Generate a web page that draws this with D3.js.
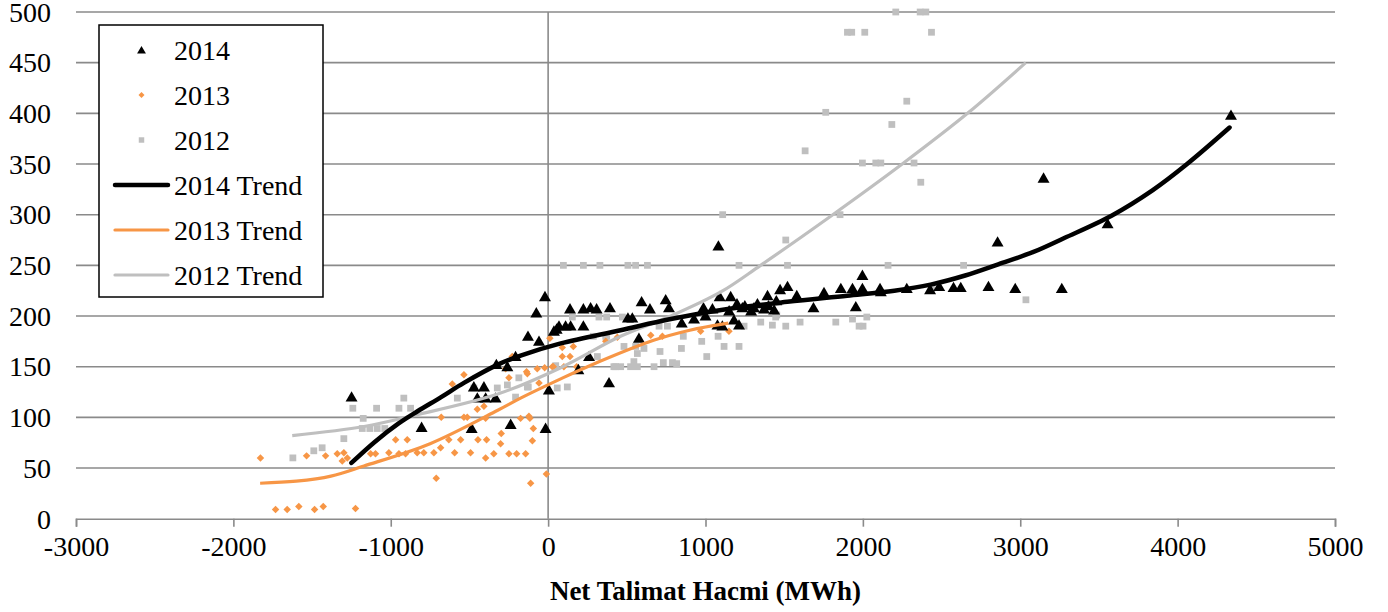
<!DOCTYPE html>
<html>
<head>
<meta charset="utf-8">
<script src="https://cdn.jsdelivr.net/npm/d3@7"></script>
<style>
html,body{margin:0;padding:0;background:#fff;}
svg{display:block;font-family:"Liberation Serif","Times New Roman",serif;}
</style>
</head>
<body>
<svg id="chart" width="1388" height="612"></svg>
<script>
// ---- data ----
const xTicks = [-3000, -2000, -1000, 0, 1000, 2000, 3000, 4000, 5000];
const yTicks = [0, 50, 100, 150, 200, 250, 300, 350, 400, 450, 500];
const xTitle = "Net Talimat Hacmi (MWh)";
const seriesNames = ["2014", "2013", "2012", "2014 Trend", "2013 Trend", "2012 Trend"];

const pts2014 = [[-1249,120],[-804,90],[-486,89],[-472,130],[-408,130],[-450,119],[-397,119],[-334,119],[-329,152],[-259,150],[-238,93],[-207,160],[-128,180],[-75,203],[-58,175],[-20,219],[-16,89],[5,127],[37,185],[54,187],[69,190],[111,190],[139,207],[143,190],[192,147],[224,207],[224,190],[260,160],[270,208],[308,207],[387,134],[393,208],[507,198],[535,198],[577,178],[594,214],[647,207],[747,216],[768,208],[849,193],[927,197],[987,208],[1000,200],[1044,207],[1076,191],[1082,269],[1090,219],[1107,190],[1150,205],[1160,219],[1181,196],[1200,212],[1213,191],[1234,208],[1250,210],[1290,205],[1308,208],[1330,212],[1372,207],[1394,220],[1400,210],[1436,206],[1450,215],[1474,226],[1521,229],[1580,220],[1686,208],[1753,223],[1860,227],[1934,227],[1955,209],[1997,240],[1997,227],[2109,227],[2114,224],[2279,227],[2427,226],[2485,229],[2576,228],[2622,228],[2798,229],[2856,273],[2968,227],[3148,336],[3264,227],[3555,291],[4339,398]];

const pts2013 = [[-1828,60],[-1732,9],[-1658,9],[-1584,12],[-1484,9],[-1429,12],[-1224,10],[-1535,62],[-1414,62],[-1340,64],[-1298,65],[-1308,57],[-1276,60],[-1128,64],[-1097,64],[-1012,65],[-969,78],[-948,64],[-906,64],[-895,78],[-832,65],[-790,65],[-726,65],[-711,40],[-683,70],[-679,100],[-631,78],[-609,133],[-594,65],[-556,78],[-535,142],[-535,100],[-514,100],[-493,65],[-450,108],[-446,78],[-408,111],[-397,60],[-397,99],[-391,78],[-345,64],[-302,74],[-298,84],[-270,148],[-249,139],[-249,64],[-228,160],[-200,64],[-175,99],[-143,64],[-137,145],[-132,143],[-122,101],[-116,99],[-111,35],[-100,77],[-94,89],[-69,148],[-58,134],[-22,149],[-11,44],[11,178],[27,150],[33,150],[90,169],[90,160],[100,150],[139,160],[160,170],[181,150],[366,175],[440,179],[652,181],[726,180],[969,185],[1149,185]];

const pts2012 = [[-1622,60],[-1489,67],[-1436,70],[-1298,79],[-1241,109],[-1181,89],[-1175,99],[-1133,89],[-1090,109],[-1086,89],[-1038,89],[-948,109],[-917,119],[-874,109],[-577,119],[-472,129],[-323,129],[-259,132],[-207,120],[-186,139],[-132,130],[-126,130],[48,151],[58,129],[97,250],[122,130],[154,199],[224,250],[287,180],[313,160],[323,199],[329,250],[366,180],[372,199],[372,180],[418,150],[429,150],[461,150],[472,199],[482,170],[507,250],[524,150],[545,155],[556,250],[556,170],[567,163],[567,150],[609,168],[631,250],[673,150],[705,190],[711,165],[732,154],[758,190],[790,154],[817,153],[847,168],[859,180],[976,175],[1008,160],[1080,180],[1109,300],[1118,170],[1213,250],[1213,170],[1245,190],[1351,194],[1425,191],[1446,199],[1453,201],[1510,190],[1510,275],[1521,250],[1601,194],[1633,363],[1764,401],[1828,194],[1855,300],[1902,480],[1929,480],[1934,197],[1976,190],[1997,351],[2001,190],[2012,480],[2025,199],[2082,351],[2114,351],[2160,250],[2184,389],[2209,500],[2279,412],[2325,351],[2364,500],[2368,332],[2400,500],[2436,480],[2438,227],[2640,250],[3036,216]];

const trend2014 = [[-1250,55],[-1100,76],[-950,94],[-830,106],[-680,120],[-535,134],[-320,152],[-175,161],[80,173],[460,186],[780,197],[1100,206],[1520,214],[1900,220],[2200,225],[2430,231],[2650,240],[2860,251],[3080,263],[3280,277],[3580,299],[3840,324],[4060,350],[4330,386]];
const trend2013 = [[-1830,35],[-1600,37],[-1380,42],[-1170,52],[-750,74],[-320,107],[-175,119],[80,138],[250,150],[670,176],[900,186],[1145,193]];
const trend2012 = [[-1626,82],[-1170,91],[-850,102],[-320,123],[80,149],[460,180],[780,200],[1100,224],[1350,250],[1800,299],[2250,350],[2665,400],[3035,450]];

// ---- layout ----
const svg = d3.select("#chart");
const x = d3.scaleLinear().domain([-3000, 5000]).range([76, 1335]);
const y = d3.scaleLinear().domain([0, 500]).range([518.7, 12]);
const gridColor = "#8a8a8a";
const cBlack = "#000000", cOrange = "#F79646", cGray = "#BFBFBF";

// gridlines
svg.append("g").selectAll("line").data(yTicks.filter(d => d > 0)).join("line")
  .attr("x1", x(-3000)).attr("x2", x(5000))
  .attr("y1", d => y(d)).attr("y2", d => y(d))
  .attr("stroke", gridColor).attr("stroke-width", 1.6);

// vertical axis line at x = 0
svg.append("line").attr("x1", x(0)).attr("x2", x(0))
  .attr("y1", y(500)).attr("y2", y(0))
  .attr("stroke", gridColor).attr("stroke-width", 1.6);

// x axis
const xAxis = d3.axisBottom(x).tickValues(xTicks).tickSize(8).tickPadding(9).tickFormat(d => String(d));
const gx = svg.append("g").attr("transform", `translate(0,${y(0)})`).call(xAxis);
gx.select(".domain").attr("stroke", gridColor).attr("stroke-width", 1.6);
gx.selectAll(".tick line").attr("stroke", gridColor).attr("stroke-width", 1.6);
gx.selectAll(".tick text").attr("font-family", "Liberation Serif").attr("font-size", 28).attr("fill", "#000").attr("dy", "0.71em");

// y tick labels (no axis line on left)
svg.append("g").selectAll("text").data(yTicks).join("text")
  .attr("x", 51).attr("y", d => y(d)).attr("dy", "0.35em")
  .attr("text-anchor", "end").attr("font-size", 28).attr("fill", "#000")
  .text(d => String(d));

// x title
svg.append("text").attr("x", (x(-3000) + x(5000)) / 2).attr("y", 600)
  .attr("text-anchor", "middle").attr("font-size", 27).attr("font-weight", "bold")
  .text(xTitle);

// markers
const tri = d3.symbol().type(d3.symbolTriangle).size(62);
const sq = d3.symbol().type(d3.symbolSquare).size(46);
const dia = d3.symbol().type(d3.symbolSquare).size(28); // rotated 45deg -> diamond

svg.append("g").selectAll("path").data(pts2012).join("path")
  .attr("d", sq).attr("transform", d => `translate(${x(d[0])},${y(d[1])})`).attr("fill", cGray);
svg.append("g").selectAll("path").data(pts2013).join("path")
  .attr("d", dia).attr("transform", d => `translate(${x(d[0])},${y(d[1])}) rotate(45)`).attr("fill", cOrange);
svg.append("g").selectAll("path").data(pts2014).join("path")
  .attr("d", tri).attr("transform", d => `translate(${x(d[0])},${y(d[1]) + 1})`).attr("fill", cBlack);

// trend lines
const line = d3.line().x(d => x(d[0])).y(d => y(d[1])).curve(d3.curveCatmullRom.alpha(0.5));
svg.append("path").datum(trend2012).attr("d", line).attr("fill", "none").attr("stroke", cGray).attr("stroke-width", 3.2);
svg.append("path").datum(trend2013).attr("d", line).attr("fill", "none").attr("stroke", cOrange).attr("stroke-width", 3.2);
svg.append("path").datum(trend2014).attr("d", line).attr("fill", "none").attr("stroke", cBlack).attr("stroke-width", 4.5).attr("stroke-linecap", "round");

// legend
const lg = svg.append("g");
lg.append("rect").attr("x", 99).attr("y", 25).attr("width", 224).attr("height", 272)
  .attr("fill", "#fff").attr("stroke", "#000").attr("stroke-width", 1.5);
const items = [
  {name: seriesNames[0], kind: "tri", color: cBlack},
  {name: seriesNames[1], kind: "dia", color: cOrange},
  {name: seriesNames[2], kind: "sq", color: cGray},
  {name: seriesNames[3], kind: "line", color: cBlack, w: 4.5},
  {name: seriesNames[4], kind: "line", color: cOrange, w: 3.2},
  {name: seriesNames[5], kind: "line", color: cGray, w: 3.2}
];
items.forEach((it, i) => {
  const cy = 50 + i * 45;
  if (it.kind === "line") {
    lg.append("line").attr("x1", 115).attr("x2", 168).attr("y1", cy).attr("y2", cy)
      .attr("stroke", it.color).attr("stroke-width", it.w).attr("stroke-linecap", "round");
  } else {
    const sym = it.kind === "tri" ? d3.symbol().type(d3.symbolTriangle).size(34)
      : it.kind === "dia" ? d3.symbol().type(d3.symbolSquare).size(18)
      : d3.symbol().type(d3.symbolSquare).size(30);
    const rot = it.kind === "dia" ? " rotate(45)" : "";
    lg.append("path").attr("d", sym).attr("transform", `translate(141.5,${cy + (it.kind === "tri" ? 1 : 0)})${rot}`).attr("fill", it.color);
  }
  lg.append("text").attr("x", 174).attr("y", cy).attr("dy", "0.34em")
    .attr("font-size", 28).attr("fill", "#000").text(it.name);
});
</script>
</body>
</html>
